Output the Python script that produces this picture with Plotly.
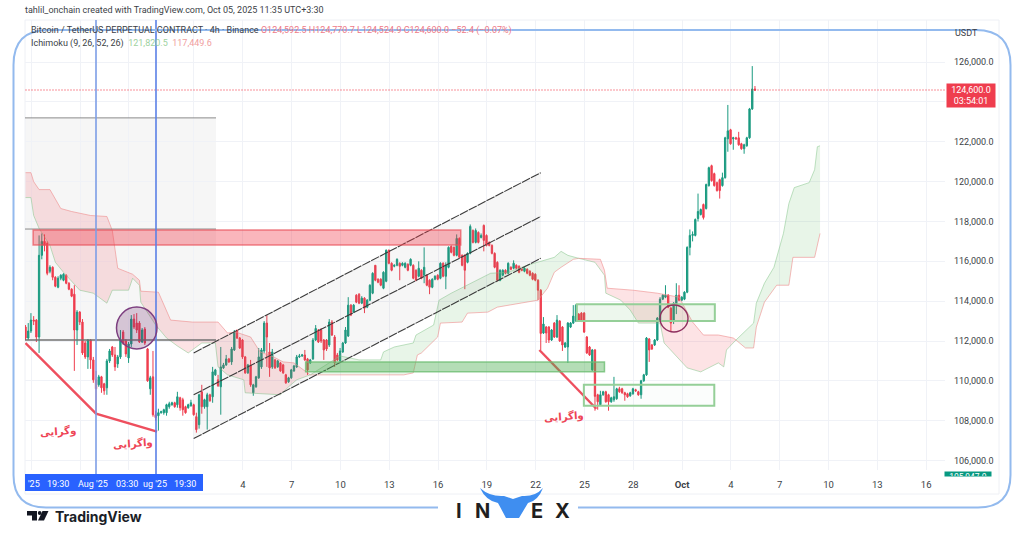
import pandas as pd
import plotly.graph_objects as go

first_bar = pd.Timestamp("2025-08-21 15:30")

opens = [
    112700,112150,112500,113050,113050,112200,116300,117000,116900,115500,
    115700,115200,114700,115150,115050,115300,114900,114600,114350,112550,
    113450,112950,111900,111200,112050,111050,110050,109800,110200,109850,
    109650,111000,111700,111300,110850,111200,112450,112000,111150,111850,
    113100,112900,112900,111950,112600,111600,109600,110200,108300,108250,
    108400,108400,108400,108700,108800,108900,108800,109150,109050,108700,
    108650,108750,108800,108200,107800,109450,108700,108700,109300,109200,
    110300,110050,109700,110650,110800,111100,110950,111550,112550,112150,
    112050,111200,110400,110800,109400,109700,110150,110700,111500,112900,
    111450,110700,111050,110700,110900,110800,110300,109950,110150,110500,
    110700,111200,111250,111300,111100,110900,111100,112050,112550,
    112550,112050,112050,111800,112950,112200,111300,111000,111450,111900,
    112250,113800,113450,114300,114350,113900,114150,113700,114050,114400,
    115800,115100,115100,114650,115000,116550,115900,115750,115800,115900,
    115800,115700,115850,115800,115800,115550,115250,115550,115300,115300,
    115050,114700,115100,115300,115150,115900,115250,115700,116750,116700,
    116300,117150,116300,116300,115950,116400,117550,116950,117450,117200,
    117800,117300,116950,116800,116400,115950,115050,115300,115550,115400,
    115700,115650,115800,115750,115600,115500,115600,115500,115400,115350,
    115050,114550,112400,112700,112700,112050,112900,112200,113000,112700,
    111700,111700,112700,112900,113000,113350,113400,113400,112200,111700,110550,
    111550,109300,108800,109300,109450,109300,108950,109050,109100,109600,
    109600,109400,109350,109250,109350,109550,109450,109300,110000,110300,
    112100,111800,111800,112050,113050,114100,114200,114300,113650,113050,
    113800,114300,114050,114100,114450,116700,117300,117300,118150,118350,
    118850,118650,119800,120800,120400,119950,120100,119800,120200,122150,
    122600,122150,122200,122200,121900,121650,121800,122200,123650,124650,
]
closes = [
    112150,112500,113050,113000,112200,116300,117000,116800,115400,115700,
    115200,114750,115150,115300,115350,114900,114600,114250,112550,113450,
    112950,111400,111200,112050,111050,110050,109600,110200,109650,109500,
    111000,111500,111300,110700,111200,112050,111900,111350,111850,113100,
    112700,112550,111950,112550,111900,110000,110150,108300,108150,108400,
    108450,108550,108800,108850,108900,108700,109200,108650,108550,108400,
    108800,108900,108300,107550,109300,108700,109050,109300,109000,110450,
    110550,109750,110700,110800,111100,110950,111600,112450,112150,111650,
    111200,110400,110800,109800,109800,110200,111200,111550,112900,112200,
    110650,111450,110650,111000,110500,110400,109900,110150,110550,110750,
    111200,111250,111300,111050,110550,111050,112050,112630,111950,
    112000,111550,111600,112950,112300,110900,111050,111500,111900,112550,
    113800,113300,113800,113950,113900,114150,113650,114050,114800,115400,
    115050,114950,114800,115450,116550,115900,115550,115800,116100,115750,
    115900,115900,115550,116100,115150,115050,115650,115150,115700,114800,
    114700,115100,115250,115100,115900,115250,115800,116700,116450,116300,
    117150,116200,115800,115550,116400,117750,116950,117550,116950,117300,
    117050,116800,116800,116400,115700,115050,115550,115550,115400,115900,
    115600,115900,115650,115450,115550,115650,115400,115300,115100,115050,
    114550,112380,112850,112400,112050,112550,112200,113050,112000,111800,
    111900,112900,112900,113250,113800,113050,113000,112450,111400,111300,111550,
    109220,108950,109300,109450,108950,108950,109150,109200,109600,109450,
    109400,109300,109200,109400,109600,109500,109300,110000,110300,112150,
    111550,111600,112050,113150,114100,114300,114300,113700,112900,113900,
    114300,114050,114200,114450,116700,117300,117350,118100,118500,118600,
    118200,119850,120700,120050,119800,119550,119550,120200,122200,122550,
    121900,122200,122150,121850,121650,121850,122200,123650,124650,124600,
]
highs = [
    112800,112900,113400,113250,113100,117300,117400,117350,117000,115800,
    115750,115250,115250,115350,115400,115350,114950,114650,114800,113550,
    113500,113100,112000,112100,112100,111200,110500,110300,110250,109900,
    111100,111600,111750,111700,111300,112550,112550,112100,111950,113300,
    113350,113400,113000,112650,112700,111650,110250,111500,108500,108600,
    108500,108600,108850,108950,108950,108950,109450,109200,109150,108750,
    108850,109050,108850,108400,109350,109800,109100,109400,109350,110700,
    110600,110300,111700,110900,111300,111150,111700,112550,112550,112200,
    112100,111250,110850,111050,109850,110250,111650,111650,113000,113300,
    111900,111600,111100,111050,110950,110850,110350,110200,110600,110800,
    111300,111350,111350,111550,111150,111100,112150,112800,112600,
    112650,112100,112100,113100,113050,112300,111400,111650,111950,112700,
    114200,113850,113850,114350,114400,114250,114200,114100,114850,115450,
    115800,115150,115150,115500,116600,116600,115950,115850,116150,115950,
    115950,115950,115900,116150,115850,115600,116000,115600,116700,115350,
    115100,115150,115300,115350,115950,115950,115950,116750,116800,116750,
    117350,117200,116350,116350,116450,117850,117600,117650,117500,117400,
    117850,117350,117000,116850,116450,116000,115600,115600,115600,115950,
    115750,116050,115850,115800,115650,115700,115650,115550,115450,115400,
    115100,114600,113200,112750,112750,112600,112950,113300,113050,112750,
    111950,112950,112950,113800,113850,113400,113450,113450,112250,111750,111600,
    111600,109350,109500,109500,109500,109350,109200,110200,109650,109700,
    109650,109450,109400,109450,109650,109600,109500,110050,110350,112200,
    112150,111850,112100,113200,114200,114350,114800,114350,113700,113950,
    114900,114800,114250,114500,116750,117600,117500,118150,119400,118650,
    118900,119900,120750,120850,120450,120000,120150,120450,122250,123850,
    122650,122250,122250,122500,121950,121900,122250,123700,125800,124800,
]
lows = [
    112050,112050,112400,112800,111950,111400,116100,116500,115300,115400,
    115050,114700,114650,115050,115000,114850,114550,114200,110500,111800,
    112800,111300,111100,110600,110600,109900,108350,109700,109400,109300,
    109300,110900,111200,110500,110650,111100,111800,111200,110900,111700,
    112600,112400,111900,111900,111800,109950,109300,108200,108000,107500,
    108350,108300,108250,108600,108750,108650,108650,108500,108250,108350,
    108600,108700,108250,107400,107600,108350,108600,107550,108950,108900,
    110250,109700,108300,110600,110750,110900,110800,111500,112100,111600,
    111100,110350,110350,109700,109250,109650,110100,110600,111400,110700,
    110200,110600,110600,110650,110450,110350,109850,109900,110100,110450,
    110650,111150,111200,111000,110300,110850,111050,112000,111900,
    111900,111050,111500,111700,112250,110700,111000,110950,111400,111850,
    112200,113250,113400,113900,113850,113850,113400,113650,114000,114350,
    115000,114900,114750,114600,114950,115850,115500,115700,115750,115050,
    115750,115650,115500,115750,115100,115000,115200,115100,114900,114750,
    114350,114650,115050,115050,115100,115200,114600,115650,116400,116250,
    116250,116150,115750,114600,115900,116350,116900,116900,116900,117150,
    116500,116750,116750,116350,115650,115000,115000,115250,115350,115350,
    115550,115600,115600,115400,115500,115450,115350,115250,115050,115000,
    114050,111550,112350,111900,111900,112000,112150,112150,111950,111500,
    111650,110900,112650,112850,112950,113000,112950,112400,111350,111250,110500,
    108500,108550,108750,109250,108900,108500,108900,108950,109050,109400,
    109350,109000,109150,109200,109300,109450,109250,109100,109950,110250,
    110950,111550,111750,112000,113000,114050,114150,113650,112450,112850,
    113350,114000,114000,114050,114400,116300,117000,117250,118000,118300,
    118100,118600,119750,120000,119750,119500,119150,119750,120150,121500,
    121850,121600,122100,121800,121600,121400,121750,122150,123600,124550,
]

# ichimoku cloud, (bar number, price)
red1_b = [(0,120450),(2,120450),(3,120000),(5,119600),(9,119600),(11,119100),(13,118650),(17,118500),(24,118300),(30,118250),(32,117550),(34,115650),(39.5,115350),(42,115050),(42.5,114500),(49,114450),(50.5,113950),(53.5,113050),(61.5,112950),(71,112950),(74.5,112400),(77.5,112450),(83,112200),(85.5,111700),(86.5,111450),(91.5,111200),(95,110950),(99,110900),(102.5,110550),(105,110300)]
red1_a = [(0,119200),(2,119200),(3,118300),(5,117650),(9,116800),(11,115950),(14,115450),(20,114550),(25,114400),(30,113900),(32,114550),(38,114550),(39.5,115150),(42,114800),(42.5,113950),(48,112800),(52,112150),(56,111750),(60,111400),(65,111900),(70,111900),(71,110700),(74.5,110300),(80.5,110050),(81,109400),(94,109300),(97,109700),(100,110050),(105,110300)]
green1_a = [(105,110300),(116,111250),(123,111050),(131,111050),(132,111450),(136,111700),(143,111900),(144,112300),(150.5,112800),(152.5,114050),(157,114400),(161.5,114700),(171.5,115400),(178,115450),(185,115800),(195,116200),(197.5,116500),(200,116300),(204,116150)]
green1_b = [(105,110300),(139.5,110300),(143,110400),(144.5,111300),(146,111400),(152,112200),(153,112900),(161,112950),(163,113400),(170.5,113450),(174,113700),(182.5,113900),(189,114050),(192.5,114650),(195,115450),(197.5,115700),(202,116100),(204,116150)]
red2_b = [(204,116150),(212,116100),(213.5,115550),(214.5,114650),(224,114550),(233,114400),(241,114200),(246,112950),(250,112300),(255.5,112300),(261,112150),(262,112050)]
red2_a = [(204,116150),(210,115950),(213.5,115300),(214,114400),(219.5,114050),(223,113550),(226,112900),(234,112900),(235.5,111900),(239,111400),(244,110650),(249,110450),(255.5,110900),(257.5,110700),(258.5,111550),(262,112050)]
green2_a = [(262,112050),(268.5,112900),(269.5,113900),(272.5,114900),(276,115700),(279.5,117400),(281.5,118900),(283.5,119700),(289,119950),(291,120600),(292,121750),(293,121800)]
green2_b = [(262,112050),(265.5,111650),(268.5,111650),(269.5,112700),(272.5,113950),(277,114800),(281.5,114800),(283,116200),(291,116200),(293,117400)]

channel_bars = [62, 190]
channel_top = [111400, 120450]
channel_mid = [109300, 118250]
channel_bottom = [107100, 116150]

divergence_bars = [0, 26, 48.5]
divergence_prices = [111900, 108350, 107450]
divergence2_bars = [189.5, 210.5]
divergence2_prices = [111550, 108600]

tick_dates = ["2025-08-22","2025-08-25","2025-08-28","2025-09-01","2025-09-04","2025-09-07","2025-09-10","2025-09-13","2025-09-16","2025-09-19","2025-09-22","2025-09-25","2025-09-28","2025-10-01","2025-10-04","2025-10-07","2025-10-10","2025-10-13","2025-10-16"]
tick_labels = ["","","","","4","7","10","13","16","19","22","25","28","<b>Oct</b>","4","7","10","13","16"]
price_ticks = [106000,108000,110000,112000,114000,116000,118000,120000,122000,124000,126000]
price_labels = ["106,000.0","108,000.0","110,000.0","112,000.0","114,000.0","116,000.0","118,000.0","120,000.0","122,000.0","","126,000.0"]

UP = "#1a9a80"
DOWN = "#ef3d4e"
RED_LINE = "#ee4f5e"
FONT = "Roboto"


def bar_time(n):
    return first_bar + pd.Timedelta(hours=4 * n)


def px(x):
    return (x - 25) / 920


def py(y):
    return (470 - y) / 450


def cloud_pair(upper, lower, line_up, line_low, fill):
    traces = []
    for pts, col, mode_fill in ((lower, line_low, None), (upper, line_up, "tonexty")):
        traces.append(go.Scatter(
            x=[bar_time(p[0]) for p in pts], y=[p[1] for p in pts],
            mode="lines", line=dict(color=col, width=1),
            fill=mode_fill, fillcolor=fill, hoverinfo="skip", showlegend=False))
    return traces


fig = go.Figure()

cl_green = "rgba(76,175,80,0.13)"
cl_red = "rgba(242,54,69,0.14)"
line_g = "rgba(130,195,135,0.5)"
line_r = "rgba(239,140,140,0.6)"
for tr in (cloud_pair(red1_b, red1_a, line_r, line_g, cl_red)
           + cloud_pair(green1_a, green1_b, line_g, line_r, cl_green)
           + cloud_pair(red2_b, red2_a, line_r, line_g, cl_red)
           + cloud_pair(green2_a, green2_b, line_g, line_r, cl_green)):
    fig.add_trace(tr)

# channel background then its three lines
fig.add_trace(go.Scatter(
    x=[bar_time(channel_bars[0]), bar_time(channel_bars[1]), bar_time(channel_bars[1]), bar_time(channel_bars[0])],
    y=[channel_top[0], channel_top[1], channel_bottom[1], channel_bottom[0]],
    mode="lines", line=dict(width=0), fill="toself", fillcolor="rgba(128,128,128,0.07)",
    hoverinfo="skip", showlegend=False))

fig.add_trace(go.Candlestick(
    x=pd.date_range(first_bar, periods=len(opens), freq="4h"),
    open=opens, high=highs, low=lows, close=closes,
    increasing=dict(line=dict(color=UP, width=1), fillcolor=UP),
    decreasing=dict(line=dict(color=DOWN, width=1), fillcolor=DOWN),
    whiskerwidth=0, showlegend=False))

for prices in (channel_top, channel_mid, channel_bottom):
    fig.add_trace(go.Scatter(
        x=[bar_time(b) for b in channel_bars], y=prices, mode="lines",
        line=dict(color="#3a3a3a", width=1.1, dash="9px,1px"), hoverinfo="skip", showlegend=False))

fig.add_trace(go.Scatter(
    x=[bar_time(b) for b in divergence_bars], y=divergence_prices, mode="lines",
    line=dict(color=RED_LINE, width=2.4), hoverinfo="skip", showlegend=False))
fig.add_trace(go.Scatter(
    x=[bar_time(b) for b in divergence2_bars], y=divergence2_prices, mode="lines",
    line=dict(color=RED_LINE, width=2.4), hoverinfo="skip", showlegend=False))

shapes = []


def zone(b0, b1, p0, p1, fill, line, width=1.5):
    shapes.append(dict(type="rect", xref="x", yref="y", x0=bar_time(b0), x1=bar_time(b1),
                       y0=p0, y1=p1, fillcolor=fill, line=dict(color=line, width=width)))


# gray range box on the left
shapes.append(dict(type="rect", xref="paper", yref="y", x0=0, x1=px(216), y0=112050, y1=123200,
                   fillcolor="rgba(128,128,128,0.07)", line=dict(width=0), layer="below"))
for p, col, w in ((123200, "#8a8a8a", 1), (117620, "#8a8a8a", 1), (112050, "#707070", 1.5)):
    shapes.append(dict(type="line", xref="paper", yref="y", x0=0, x1=px(216), y0=p, y1=p,
                       line=dict(color=col, width=w)))

zone(2.8, 160.5, 116820, 117570, "rgba(242,54,69,0.36)", "rgba(232,80,90,0.7)")
zone(103.3, 213.5, 110450, 110950, "rgba(76,175,80,0.42)", "rgba(110,190,115,0.8)")
zone(203.3, 254.2, 113000, 113850, "rgba(76,175,80,0.10)", "#95cf98", 2)
zone(205.9, 254, 108750, 109800, "rgba(76,175,80,0.02)", "#95cf98", 2)

# dotted last price line
shapes.append(dict(type="line", xref="paper", yref="y", x0=0, x1=1, y0=124600, y1=124600,
                   line=dict(color="rgba(242,54,69,0.55)", width=1, dash="2px,1px")))

# blue vertical markers
for x, col in ((96, "#7d9ee6"), (156, "#5b80e6")):
    shapes.append(dict(type="line", xref="paper", yref="paper", x0=px(x), x1=px(x), y0=py(474), y1=py(20),
                       line=dict(color=col, width=1.6)))

# circles
shapes.append(dict(type="circle", xref="paper", yref="paper", x0=px(116.5), x1=px(157), y0=py(349), y1=py(307),
                   fillcolor="rgba(110,40,110,0.24)", line=dict(color="#7d3f80", width=1.5)))
shapes.append(dict(type="circle", xref="paper", yref="paper", x0=px(660), x1=px(688), y0=py(332), y1=py(305),
                   line=dict(color="#8e2f5e", width=1.4)))

# blue selected date range
shapes.append(dict(type="rect", xref="paper", yref="paper", x0=px(25), x1=px(203), y0=py(491), y1=py(474),
                   fillcolor="#2962ff", line=dict(width=0)))
# chart border
shapes.append(dict(type="rect", xref="paper", yref="paper", x0=px(25), x1=px(999), y0=py(494), y1=py(20),
                   line=dict(color="#eef0f5", width=1), layer="below"))


def P(x, y):
    return f"{px(x):.5f},{py(y):.5f}"


# rounded frame around the whole chart, open under the logo
frame = (f"M {P(438,507.5)} L {P(46,507.5)} Q {P(13.5,507.5)} {P(13.5,475)} L {P(13.5,65)} "
         f"Q {P(13.5,30)} {P(48,30)} L {P(976,30)} Q {P(1010.5,30)} {P(1010.5,65)} "
         f"L {P(1010.5,475)} Q {P(1010.5,507.5)} {P(978,507.5)} L {P(578,507.5)}")
shapes.append(dict(type="path", xref="paper", yref="paper", path=frame, line=dict(color="#93baee", width=2)))

# invex bull head
bull = (f"M {P(480,488)} Q {P(486,501)} {P(498,503)} L {P(506,518)} L {P(519,518)} L {P(528,503)} "
        f"Q {P(538,501)} {P(543,488)} Q {P(535,497)} {P(522,496)} L {P(513,499)} L {P(504,496)} "
        f"Q {P(490,497)} {P(480,488)} Z")
shapes.append(dict(type="path", xref="paper", yref="paper", path=bull, fillcolor="#3f8ef0", line=dict(width=0)))

# tradingview mark
tv1 = f"M {P(27,511)} L {P(37,511)} L {P(37,520.5)} L {P(32,520.5)} L {P(32,515.5)} L {P(27,515.5)} Z"
tv2 = f"M {P(42.5,511)} L {P(48.5,511)} L {P(44,520.5)} L {P(38,520.5)} Z"
shapes.append(dict(type="path", xref="paper", yref="paper", path=tv1, fillcolor="#131722", line=dict(width=0)))
shapes.append(dict(type="path", xref="paper", yref="paper", path=tv2, fillcolor="#131722", line=dict(width=0)))
shapes.append(dict(type="circle", xref="paper", yref="paper", x0=px(37.8), x1=px(41.6), y0=py(515), y1=py(511),
                   fillcolor="#131722", line=dict(width=0)))

anns = []


def note(x, y, text, size=9.5, color="#3c3f47", anchor="left", family=FONT, **kw):
    anns.append(dict(xref="paper", yref="paper", x=px(x), y=py(y), text=text, showarrow=False,
                     xanchor=anchor, yanchor="middle", font=dict(size=size, color=color, family=family),
                     **kw))


note(23, 10, "tahlil_onchain created with TradingView.com, Oct 05, 2025 11:35 UTC+3:30", size=9)
val = '<span style="color:#ee7a88">%s</span>'
note(29, 30, "Bitcoin / TetherUS PERPETUAL CONTRACT · 4h · Binance "
     + val % "O124,592.5 H124,770.7 L124,524.9 C124,600.0 −52.4 (−0.07%)", size=9)
note(29, 43, 'Ichimoku (9, 26, 52, 26)  <span style="color:#9ed2a0">121,820.5</span>  '
     '<span style="color:#f0a0a0">117,449.6</span>', size=9)
note(966, 33, "USDT", size=9, anchor="center")

# texts on the blue range box
for x, t in ((34, "'25"), (58, "19:30"), (93, "Aug '25"), (127, "03:30"), (155, "ug '25"), (185, "19:30")):
    note(x, 484, t, size=9, color="#ffffff", anchor="center")

# last price tag
note(971, 95.5, "124,600.0<br>03:54:01", size=9, color="#ffffff", anchor="center",
     bgcolor="#ef3d4e", width=48, height=23, borderpad=0, align="center")
note(968, 473.5, "105,947.0", size=8.5, color="#ffffff", anchor="center",
     bgcolor="#089981", width=46, height=4, borderpad=0, valign="top")

# persian labels
persian = dict(size=10.2, color="#ee4455", anchor="center", family="DejaVu Sans")
note(58, 431, "<b>وگرایی</b>", textangle=-4, **persian)
note(133, 443, "<b>واگرایی</b>", textangle=-4, **persian)
note(564, 416, "<b>واگرایی</b>", textangle=-4, **persian)

# logos
note(98, 516, "<b>TradingView</b>", size=14, color="#1b1e27", anchor="center", family="Inter")
for x, t in ((459, "I"), (482, "N"), (537, "E"), (562, "X")):
    note(x, 511, f"<b>{t}</b>", size=20, color="#1f1f1f", anchor="center", family="Inter")

fig.update_layout(
    width=1024, height=538,
    margin=dict(l=25, r=79, t=20, b=68),
    paper_bgcolor="white", plot_bgcolor="white",
    showlegend=False, shapes=shapes, annotations=anns,
    font=dict(family=FONT, size=9, color="#3c3f47"),
    xaxis=dict(
        type="date", range=["2025-08-21 14:43", "2025-10-17 03:50"],
        rangeslider=dict(visible=False),
        tickmode="array", tickvals=tick_dates, ticktext=tick_labels,
        showgrid=True, gridcolor="#f0f2f7", gridwidth=1, ticks="", zeroline=False,
        showline=False, ticklabelstandoff=7,
        tickfont=dict(family=FONT, size=9.5, color="#3c3f47")),
    yaxis=dict(
        side="right", range=[105524, 128114],
        tickmode="array", tickvals=price_ticks, ticktext=price_labels,
        showgrid=True, gridcolor="#f0f2f7", gridwidth=1, ticks="", zeroline=False,
        showline=False, ticklabelstandoff=8,
        tickfont=dict(family=FONT, size=9, color="#3c3f47")),
)

fig.write_html("out.html", config={"displayModeBar": False},
               post_script="document.body.style.margin='0';")
